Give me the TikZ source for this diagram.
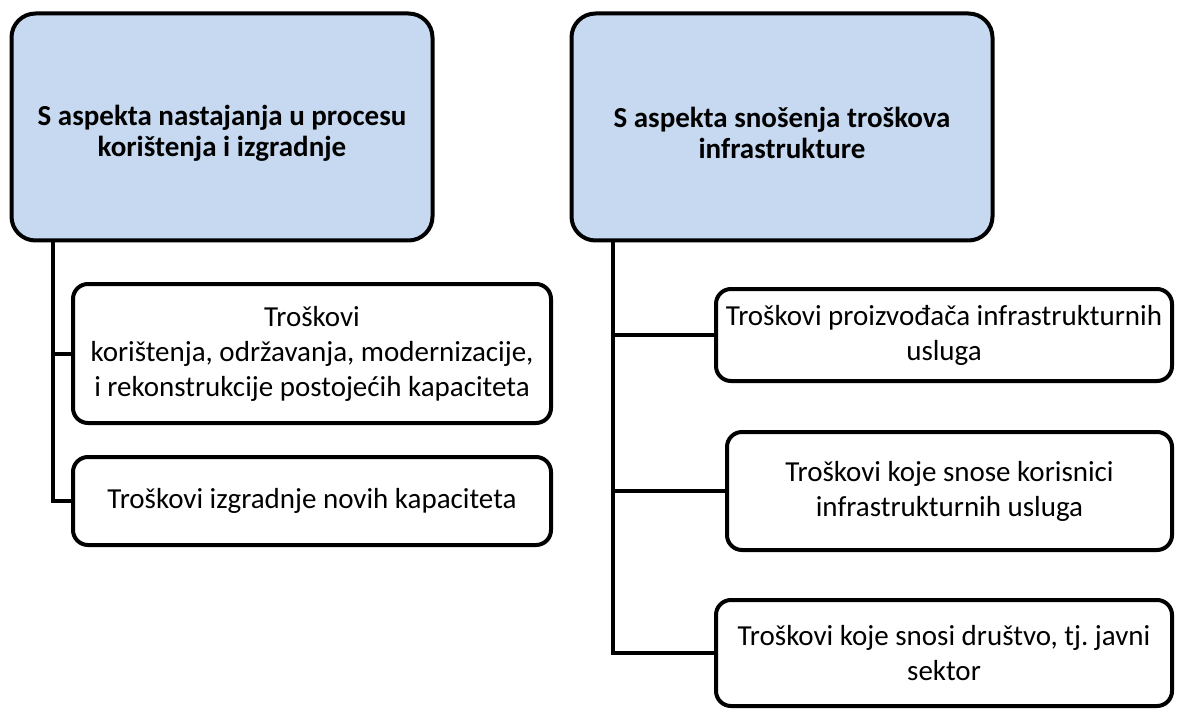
\documentclass[tikz,border=0pt]{standalone}
\usepackage{fontspec}
\setmainfont{Carlito}
\usetikzlibrary{positioning}
\definecolor{headblue}{RGB}{198,217,241}

\begin{document}
\begin{tikzpicture}[x=1pt,y=-1pt,
    head/.style={draw,line width=4pt,rounded corners=24pt,fill=headblue,
        minimum width=421pt,minimum height=227pt},
    title/.style={align=center,font=\fontsize{29}{31}\selectfont\bfseries},
    item/.style={draw,line width=4pt,rounded corners=15pt,fill=white,align=center,inner sep=2pt,
        font=\fontsize{29}{35}\selectfont},
    link/.style={line width=4pt}]
\useasboundingbox (0,0) rectangle (1177,711);
\node [head] (lhead) at (222,127) {};
\node [head] (rhead) at (782,127) {};
\node [title] (ltitle) at ([yshift=-6pt]lhead.center) {S aspekta nastajanja u procesu\\korištenja i izgradnje};
\node [title] (rtitle) at ([yshift=-6pt]rhead.center) {S aspekta snošenja troškova\\infrastrukture};
\node [item,minimum width=478pt,minimum height=139pt] (lcost1) at (312,353.5) {Troškovi\\korištenja, održavanja, modernizacije,\\i rekonstrukcije postojećih kapaciteta};
\node [item,minimum width=478pt,minimum height=88pt] (lcost2) at (312,501) {Troškovi izgradnje novih kapaciteta};
\node [item,minimum width=456pt,minimum height=92pt] (rcost1) at (944,335) {Troškovi proizvođača infrastrukturnih\\usluga};
\node [item,minimum width=445pt,minimum height=118pt] (rcost2) at (949.5,491) {Troškovi koje snose korisnici\\infrastrukturnih usluga};
\node [item,minimum width=456pt,minimum height=106pt] (rcost3) at (944,653) {Troškovi koje snosi društvo, tj.\ javni\\sektor};
\coordinate (ltrunk) at (53,240);
\coordinate (rtrunk) at (613,240);
\draw [link] (ltrunk) |- (lcost2.west);
\draw [link] (ltrunk |- lcost1.west) -- (lcost1.west);
\draw [link] (rtrunk) |- (rcost3.west);
\draw [link] (rtrunk |- rcost1.west) -- (rcost1.west);
\draw [link] (rtrunk |- rcost2.west) -- (rcost2.west);
\end{tikzpicture}
\end{document}
